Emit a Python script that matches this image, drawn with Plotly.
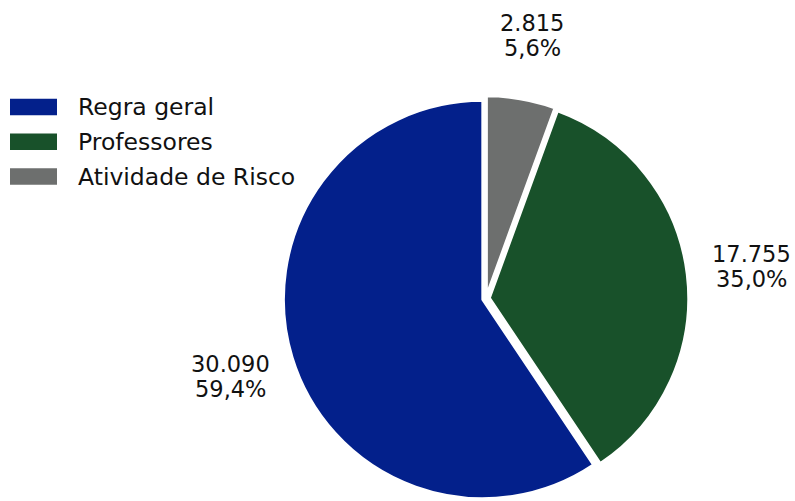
import math
import plotly.graph_objects as go

# Data
categories = ["Regra geral", "Professores", "Atividade de Risco"]
values = [30090, 17755, 2815]
colors = ["#03208b", "#18512a", "#6d6f6e"]

W, H = 795, 501
FONT = "DejaVu Sans"

# Pie geometry (pixels)
cx, cy = 486.0, 298.5
size = 405.0
pull = 0.018
r_px = size / 2 / (1 + pull)
label_dist_px = 267.0
line_gap = 25.0


def fmt_int(v):
    return f"{v:,}".replace(",", ".")


def fmt_pct(p):
    return f"{p:.1f}".replace(".", ",") + "%"


def px_x(x):
    return x / W


def px_y(y):
    return 1 - y / H


# "Regra geral" starts at 12 o'clock and runs towards the left; drawn
# clockwise with the slice order reversed.
fig = go.Figure(
    go.Pie(
        labels=categories[::-1],
        values=values[::-1],
        sort=False,
        direction="clockwise",
        rotation=0,
        pull=[pull] * len(values),
        marker=dict(colors=colors[::-1], line=dict(color="white", width=2.5)),
        textinfo="none",
        hoverinfo="label+value+percent",
        showlegend=False,
        domain=dict(
            x=[px_x(cx - size / 2), px_x(cx + size / 2)],
            y=[px_y(cy + size / 2), px_y(cy - size / 2)],
        ),
    )
)

annotations = []
shapes = []

# Value / percentage labels outside each slice (angles counterclockwise from top)
total = sum(values)
cum = 0
for v in values:
    mid = (cum + v / 2) / total * 2 * math.pi
    cum += v
    lx = cx - math.sin(mid) * label_dist_px
    ly = cy - math.cos(mid) * label_dist_px
    for k, txt in enumerate([fmt_int(v), fmt_pct(v / total * 100)]):
        annotations.append(
            dict(
                x=px_x(lx),
                y=px_y(ly + (k - 0.5) * line_gap),
                xref="paper",
                yref="paper",
                text=txt,
                showarrow=False,
                xanchor="center",
                yanchor="middle",
                font=dict(family=FONT, size=22.5, color="#111111"),
            )
        )

# Legend with wide colour swatches
leg_x0, leg_x1 = 10, 57
sw_h = 16.5
row0 = 107.0
row_step = 34.8
text_x = 76
for i, (name, col) in enumerate(zip(categories, colors)):
    yc = row0 + i * row_step
    shapes.append(
        dict(
            type="rect",
            xref="paper",
            yref="paper",
            x0=px_x(leg_x0),
            x1=px_x(leg_x1),
            y0=px_y(yc + sw_h / 2),
            y1=px_y(yc - sw_h / 2),
            fillcolor=col,
            line=dict(width=0),
        )
    )
    annotations.append(
        dict(
            x=px_x(text_x),
            y=px_y(yc),
            xref="paper",
            yref="paper",
            text=name,
            showarrow=False,
            xanchor="left",
            yanchor="middle",
            font=dict(family=FONT, size=23.5, color="#111111"),
        )
    )

fig.update_layout(
    width=W,
    height=H,
    margin=dict(l=0, r=0, t=0, b=0),
    paper_bgcolor="white",
    plot_bgcolor="white",
    annotations=annotations,
    shapes=shapes,
)

fig.write_html("out.html")
